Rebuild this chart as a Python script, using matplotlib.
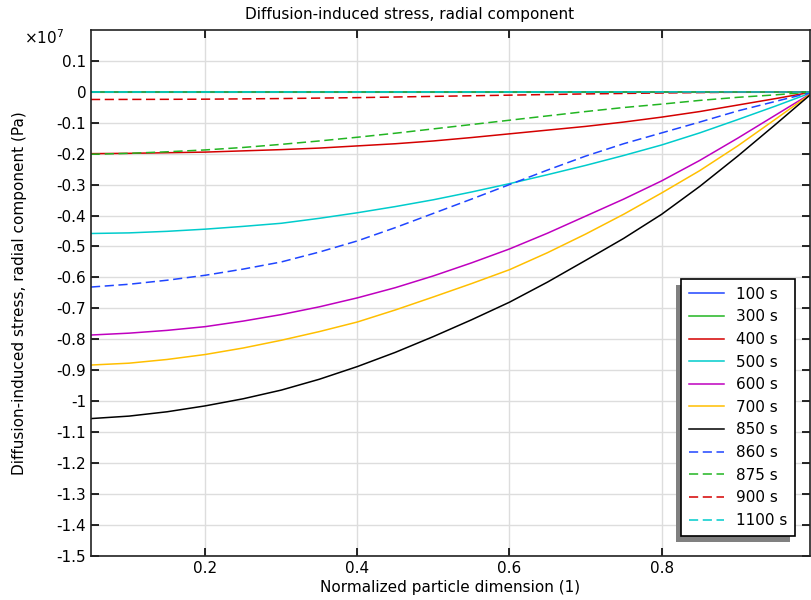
import matplotlib
matplotlib.use("Agg")
import matplotlib.pyplot as plt
from matplotlib.patches import Rectangle
from matplotlib.ticker import FuncFormatter, MultipleLocator

plt.rcParams["font.family"] = "DejaVu Sans"
plt.rcParams["axes.unicode_minus"] = False

# Normalized particle dimension (1)
x = [0.05, 0.1, 0.15, 0.2, 0.25, 0.3, 0.35, 0.4, 0.45, 0.5,
     0.55, 0.6, 0.65, 0.7, 0.75, 0.8, 0.85, 0.9, 0.95, 1.0]

# radial stress, in units of 1e7 Pa
s100 = [0] * 20
s300 = [0] * 20
s400 = [-0.200, -0.199, -0.197, -0.195, -0.191, -0.187, -0.182, -0.175, -0.168, -0.159,
        -0.148, -0.136, -0.124, -0.112, -0.098, -0.082, -0.064, -0.043, -0.022, 0]
s500 = [-0.458, -0.456, -0.451, -0.444, -0.435, -0.425, -0.409, -0.391, -0.371, -0.349,
        -0.324, -0.297, -0.268, -0.238, -0.206, -0.172, -0.133, -0.090, -0.046, 0]
s600 = [-0.786, -0.780, -0.771, -0.759, -0.741, -0.720, -0.695, -0.666, -0.633, -0.595,
        -0.553, -0.508, -0.457, -0.402, -0.347, -0.288, -0.222, -0.150, -0.075, 0]
s700 = [-0.883, -0.877, -0.865, -0.849, -0.828, -0.803, -0.775, -0.744, -0.705, -0.663,
        -0.620, -0.575, -0.520, -0.460, -0.396, -0.327, -0.255, -0.175, -0.088, 0]
s850 = [-1.056, -1.048, -1.034, -1.015, -0.992, -0.964, -0.929, -0.888, -0.842, -0.791,
        -0.737, -0.680, -0.615, -0.545, -0.474, -0.396, -0.306, -0.208, -0.105, 0]
s860 = [-0.631, -0.622, -0.609, -0.593, -0.573, -0.550, -0.518, -0.482, -0.439, -0.393,
        -0.347, -0.300, -0.253, -0.208, -0.168, -0.133, -0.098, -0.062, -0.031, 0]
s875 = [-0.202, -0.199, -0.194, -0.188, -0.180, -0.170, -0.159, -0.147, -0.134, -0.120,
        -0.106, -0.092, -0.078, -0.064, -0.051, -0.040, -0.028, -0.018, -0.010, 0]
s900 = [-0.025, -0.0248, -0.0245, -0.024, -0.023, -0.022, -0.0205, -0.019, -0.017, -0.015,
        -0.013, -0.011, -0.009, -0.007, -0.0055, -0.004, -0.0027, -0.0015, -0.0007, 0]
s1100 = [0] * 20

labels = ["100 s", "300 s", "400 s", "500 s", "600 s", "700 s",
          "850 s", "860 s", "875 s", "900 s", "1100 s"]
series = [s100, s300, s400, s500, s600, s700, s850, s860, s875, s900, s1100]
colors = ["#1f45ff", "#22b522", "#d40000", "#00cccc", "#bf00bf", "#ffbf00",
          "#000000", "#1f45ff", "#22b522", "#d40000", "#00cccc"]
dashed = [False] * 7 + [True] * 4
xticks = [0.2, 0.4, 0.6, 0.8]

SCALE = 1e7

fig = plt.figure(figsize=(8.11, 6.0), dpi=100)
ax = fig.add_axes([91 / 811, 44 / 600, 719 / 811, 526 / 600])

for ys, lab, c, d in zip(series, labels, colors, dashed):
    ls = (0, (6, 3)) if d else "-"
    ax.plot(x, [v * SCALE for v in ys], color=c, lw=1.1, ls=ls, label=lab)

ax.set_xlim(0.05, 0.995)
ax.set_ylim(-1.5e7, 0.1995e7)
ax.set_xticks(xticks)
ax.yaxis.set_major_locator(MultipleLocator(0.1e7))
ax.yaxis.set_major_formatter(FuncFormatter(lambda v, _: "%g" % (round(v / SCALE, 3) + 0.0)))
ax.xaxis.set_major_formatter(FuncFormatter(lambda v, _: "%g" % round(v, 3)))

ax.grid(True, color="#dddddd", lw=1)
ax.set_axisbelow(True)
ax.tick_params(direction="in", length=6, width=1.2, top=True, right=True,
               labelsize=11, colors="black")
for sp in ax.spines.values():
    sp.set_linewidth(1.2)
    sp.set_color("#222222")

ax.set_xlabel("Normalized particle dimension (1)", fontsize=11, labelpad=3)
ax.set_ylabel("Diffusion-induced stress, radial component (Pa)", fontsize=11, labelpad=21)
fig.text(410 / 811, 1 - 15 / 600, "Diffusion-induced stress, radial component",
         ha="center", va="center", fontsize=11)
fig.text(24 / 811, 1 - 38 / 600, r"$\times10^{7}$", ha="left", va="center", fontsize=11)

leg = ax.legend(loc="upper left", bbox_to_anchor=(0.8206, 0.5266), fontsize=11,
                frameon=True, fancybox=False, edgecolor="black", framealpha=1,
                handlelength=2.3, labelspacing=0.5, borderpad=0.5,
                handletextpad=0.8, borderaxespad=0)
leg.get_frame().set_linewidth(1.2)
leg.set_zorder(6)

# legend shadow offset to the lower left
fig.canvas.draw()
bb = leg.get_frame().get_window_extent().transformed(ax.transAxes.inverted())
dx = 5 / 719
dy = 6 / 526
ax.add_patch(Rectangle((bb.x0 - dx, bb.y0 - dy), bb.width, bb.height,
                       transform=ax.transAxes, facecolor="#808080",
                       edgecolor="none", zorder=5.5, clip_on=False))

fig.savefig("out.png", dpi=100)
